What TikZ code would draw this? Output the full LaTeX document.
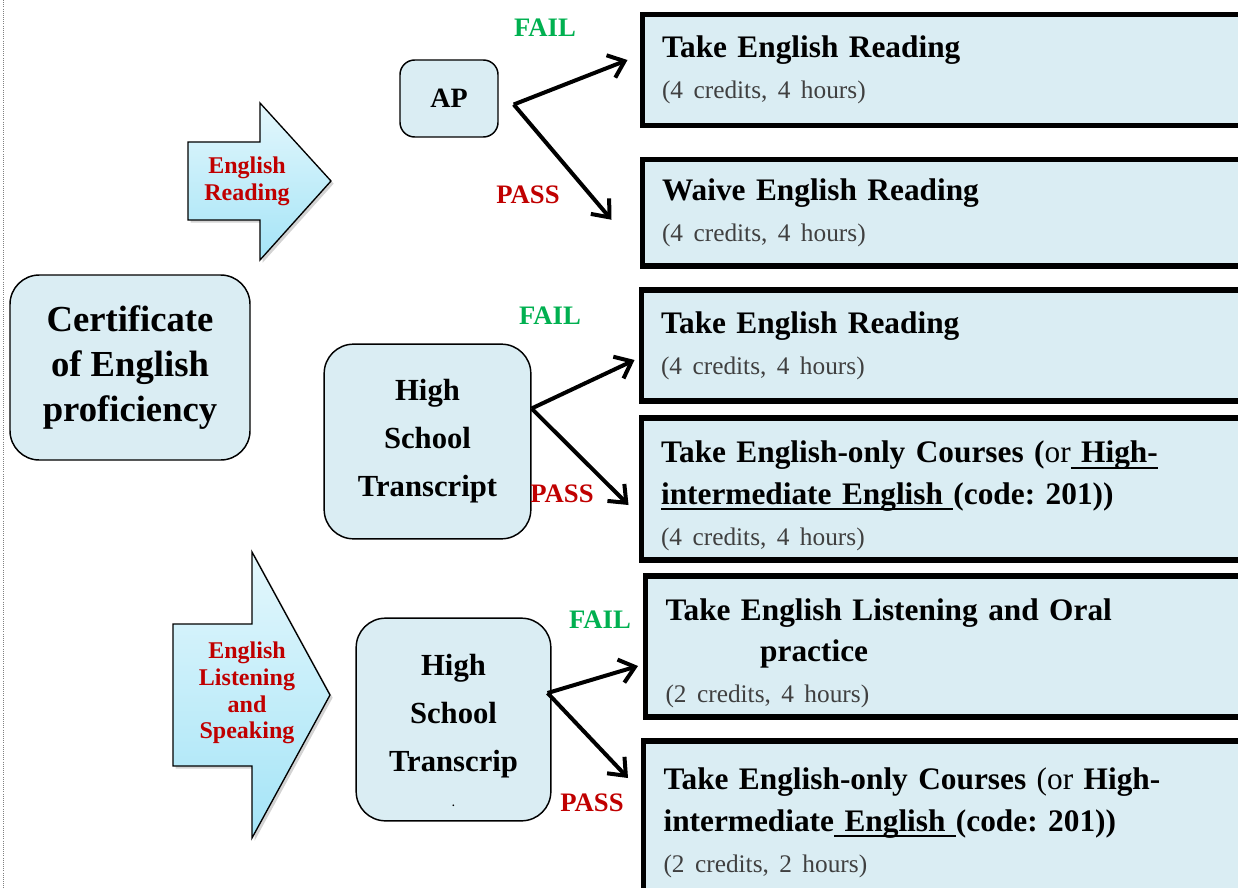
\documentclass[tikz,border=0pt]{standalone}
\usepackage{fontspec}
\setmainfont{Liberation Serif}
\usetikzlibrary{arrows.meta,calc,shadows}
\frenchspacing

\definecolor{boxblue}{HTML}{DAEDF3}
\definecolor{passred}{HTML}{C00000}
\definecolor{failgreen}{HTML}{00B050}
\definecolor{subgray}{HTML}{404040}
\definecolor{arrowtop}{HTML}{E4F7FC}
\definecolor{arrowbot}{HTML}{A4E4F7}

\newcommand{\credits}[1]{{\fontsize{19}{31}\selectfont\mdseries\color{subgray}#1}}
\newcommand{\ulbar}[1]{\leavevmode\setbox0\hbox{#1}\rlap{\rule[-4.5pt]{\wd0}{1.6pt}}\box0}

\begin{document}
\begin{tikzpicture}[
  x=0.75pt, y=-0.75pt,
  roundbox/.style={draw, fill=boxblue, line width=1.1pt, rounded corners=22pt, align=center},
  outbox/.style={draw, fill=boxblue, line width=3.8pt, anchor=west, text width=560pt, align=left,
    inner xsep=15pt, font=\fontsize{23.5}{31}\selectfont\bfseries\frenchspacing},
  flow/.style={-{Straight Barb[length=11pt,width=18pt]}, line width=3pt},
  bigarrow/.style={draw, line width=1pt, top color=arrowtop, bottom color=arrowbot,
    drop shadow={shadow xshift=2pt, shadow yshift=-2pt, opacity=0.35}},
  arrowlbl/.style={text=passred, align=center, font=\fontsize{18}{20}\selectfont\bfseries},
  fail/.style={text=failgreen, font=\fontsize{20}{24}\selectfont\bfseries},
  pass/.style={text=passred, font=\fontsize{20}{24}\selectfont\bfseries}
]
\useasboundingbox (0,0) rectangle (1238,888);
\clip (0,0) rectangle (1238,888);

% page edge
\draw[densely dotted, gray, line width=0.6pt] (3,0) -- (3,888);

% Start and test nodes
\node[roundbox, minimum width=180pt, minimum height=138.75pt,
  font=\fontsize{27.5}{34}\selectfont\bfseries] (cert) at (130,367.5) {Certificate\\of English\\proficiency};
\node[roundbox, rounded corners=11pt, minimum width=73.5pt, minimum height=57.75pt,
  font=\fontsize{21}{25}\selectfont\bfseries] (ap) at (449,98.5) {AP};
\node[roundbox, minimum width=155pt, minimum height=146pt,
  font=\fontsize{23}{36}\selectfont\bfseries] (hs1) at (427.5,441.5) {High\\School\\Transcript};
\node[roundbox, minimum width=146pt, minimum height=152pt,
  font=\fontsize{23}{36}\selectfont\bfseries] (hs2) at (453.5,719.5) {\rule{0pt}{32pt}High\\School\\Transcrip\\[-10pt]{\fontsize{8}{10}\selectfont .}};

% Big arrows
\draw[bigarrow] (188,142) -- (260,142) -- (260,103) -- (331,181) -- (260,260) -- (260,220) -- (188,220) -- cycle;
\node[arrowlbl] (readlbl) at (247,181) {English\\Reading};
\draw[bigarrow] (173,624) -- (252,624) -- (252,552) -- (330,695) -- (252,838) -- (252,766) -- (173,766) -- cycle;
\node[arrowlbl] (speaklbl) at (247,693) {English\\Listening\\and\\Speaking};

% Result boxes
\node[outbox, minimum height=82.9pt] (b1) at (639.5,70) {Take English Reading\\\credits{(4 credits, 4 hours)}};
\node[outbox, minimum height=79.9pt] (b2) at (639.5,212.75) {Waive English Reading\\\credits{(4 credits, 4 hours)}};
\node[outbox, minimum height=83.25pt] (b3) at (638.5,345.5) {Take English Reading\\\credits{(4 credits, 4 hours)}};
\node[outbox, minimum height=106.5pt] (b4) at (638.5,489) {\rule{0pt}{27pt}Take English-only Courses (\textmd{or}\ulbar{ High-}\\\ulbar{intermediate English }(code: 201))\\\credits{(4 credits, 4 hours)}};
\node[outbox, minimum height=105.75pt] (b5) at (643,646.5) {\rule{0pt}{26.5pt}Take English Listening and Oral\\\hspace*{71pt}practice\\\credits{(2 credits, 4 hours)}};
\node[outbox, minimum height=118.5pt] (b6) at (641,820) {\rule{0pt}{21pt}Take English-only Courses \textmd{(or} High-\\intermediate\ulbar{ English }(code: 201))\\\credits{(2 credits, 2 hours)}};

% Decisions
\draw[flow] ($(ap.east)+(15,6)$) -- ($(b1.west)+(-12,-10)$);
\draw[flow] ($(ap.east)+(15,6)$) -- ($(b2.west)+(-28,7)$);
\draw[flow] ($(hs1.east)+(0,-33)$) -- ($(b3.west)+(-4,14.5)$);
\draw[flow] ($(hs1.east)+(0,-33)$) -- ($(b4.west)+(-10,16)$);
\draw[flow] ($(hs2.east)+(-4,-26.5)$) -- ($(b5.west)+(-5,19.5)$);
\draw[flow] ($(hs2.east)+(-4,-26.5)$) -- ($(b6.west)+(-13,-42)$);

\node[fail] (fail1) at (545,28) {FAIL};
\node[pass] (pass1) at (528,195) {PASS};
\node[fail] (fail2) at (550,316) {FAIL};
\node[pass] (pass2) at (562,494) {PASS};
\node[fail] (fail3) at (600,620) {FAIL};
\node[pass] (pass3) at (592,803) {PASS};

\end{tikzpicture}
\end{document}
